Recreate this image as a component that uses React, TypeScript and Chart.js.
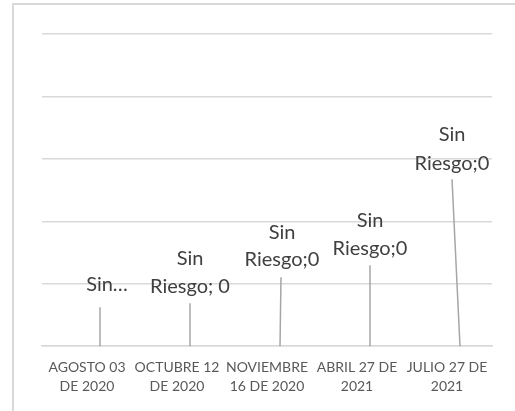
import React, { useEffect, useRef } from "react";
import { Chart, registerables } from "chart.js";

Chart.register(...registerables);

const categories: string[][] = [
  ["AGOSTO 03", "DE 2020"],
  ["OCTUBRE 12", "DE 2020"],
  ["NOVIEMBRE", "16 DE 2020"],
  ["ABRIL 27 DE", "2021"],
  ["JULIO 27 DE", "2021"],
];
const seriesName = "Sin Riesgo";
const sinRiesgo: number[] = [0, 0, 0, 0, 0];
const dataLabelLines: string[][] = [
  ["Sin…"],
  ["Sin", "Riesgo; 0"],
  ["Sin", "Riesgo;0"],
  ["Sin", "Riesgo;0"],
  ["Sin", "Riesgo;0"],
];
const yTicks = { min: 0, max: 5, step: 1 };

// manual label placement (offsets in px from the bar base), like dragged Excel labels
const labelPlacement = [
  { dx: 7, dy: [-62], lineTopDx: 0, lineTopDy: -39 },
  { dx: 0, dy: [-88, -60], lineTopDx: 0, lineTopDy: -43 },
  { dx: 2, dy: [-114, -87], lineTopDx: 1, lineTopDy: -69 },
  { dx: 0, dy: [-126, -98], lineTopDx: 0, lineTopDy: -81 },
  { dx: -8, dy: [-212, -183], lineTopDx: -8, lineTopDy: -167 },
];
const barOffset = 13;

const labelPlugin = {
  id: "leaderLabels",
  afterDatasetsDraw(chart: any) {
    const { ctx, scales } = chart;
    const xs = scales.x;
    const ys = scales.y;
    ctx.save();
    sinRiesgo.forEach((v, i) => {
      const bx = xs.getPixelForValue(i) + barOffset;
      const by = ys.getPixelForValue(v);
      const p = labelPlacement[i];
      ctx.strokeStyle = "#a6a6a6";
      ctx.lineWidth = 1.5;
      ctx.beginPath();
      ctx.moveTo(bx + p.lineTopDx, by + p.lineTopDy);
      ctx.lineTo(bx, by);
      ctx.stroke();
      ctx.fillStyle = "#404040";
      ctx.font = "20px Lato";
      ctx.textAlign = "center";
      ctx.textBaseline = "middle";
      dataLabelLines[i].forEach((t, k) => {
        ctx.fillText(t, bx + p.dx, by + p.dy[k]);
      });
    });
    ctx.restore();
  },
};

export default function App() {
  const ref = useRef<HTMLCanvasElement>(null);
  useEffect(() => {
    if (!ref.current) return;
    const chart = new Chart(ref.current, {
      type: "bar",
      data: {
        labels: categories,
        datasets: [
          {
            label: seriesName,
            data: sinRiesgo,
            backgroundColor: "#a5a5a5",
          },
        ],
      },
      options: {
        animation: false,
        responsive: false,
        layout: { padding: { left: 42, right: 23, top: 34, bottom: 3 } },
        plugins: { legend: { display: false }, tooltip: { enabled: false } },
        scales: {
          x: {
            grid: { display: false, drawTicks: false },
            border: { display: true, color: "#d9d9d9", width: 1.5 },
            ticks: {
              color: "#595959",
              font: { family: "Lato", size: 14, lineHeight: 1.35 },
              padding: 12,
              maxRotation: 0,
              autoSkip: false,
            },
          },
          y: {
            min: yTicks.min,
            max: yTicks.max,
            ticks: { display: false, stepSize: yTicks.step },
            grid: { color: "#d9d9d9", lineWidth: 1.5, drawTicks: false },
            border: { display: false },
          },
        },
      },
      plugins: [labelPlugin],
    });
    return () => chart.destroy();
  }, []);
  return (
    <div style={{ position: "absolute", left: 0, top: 0, width: 515, height: 411, background: "#fff", overflow: "hidden" }}>
      <div
        style={{
          position: "absolute",
          left: 12,
          top: 3,
          width: 600,
          height: 600,
          border: "2px solid #d9d9d9",
        }}
      />
      <canvas ref={ref} width={515} height={411} style={{ position: "absolute", left: 0, top: 0 }} />
    </div>
  );
}
